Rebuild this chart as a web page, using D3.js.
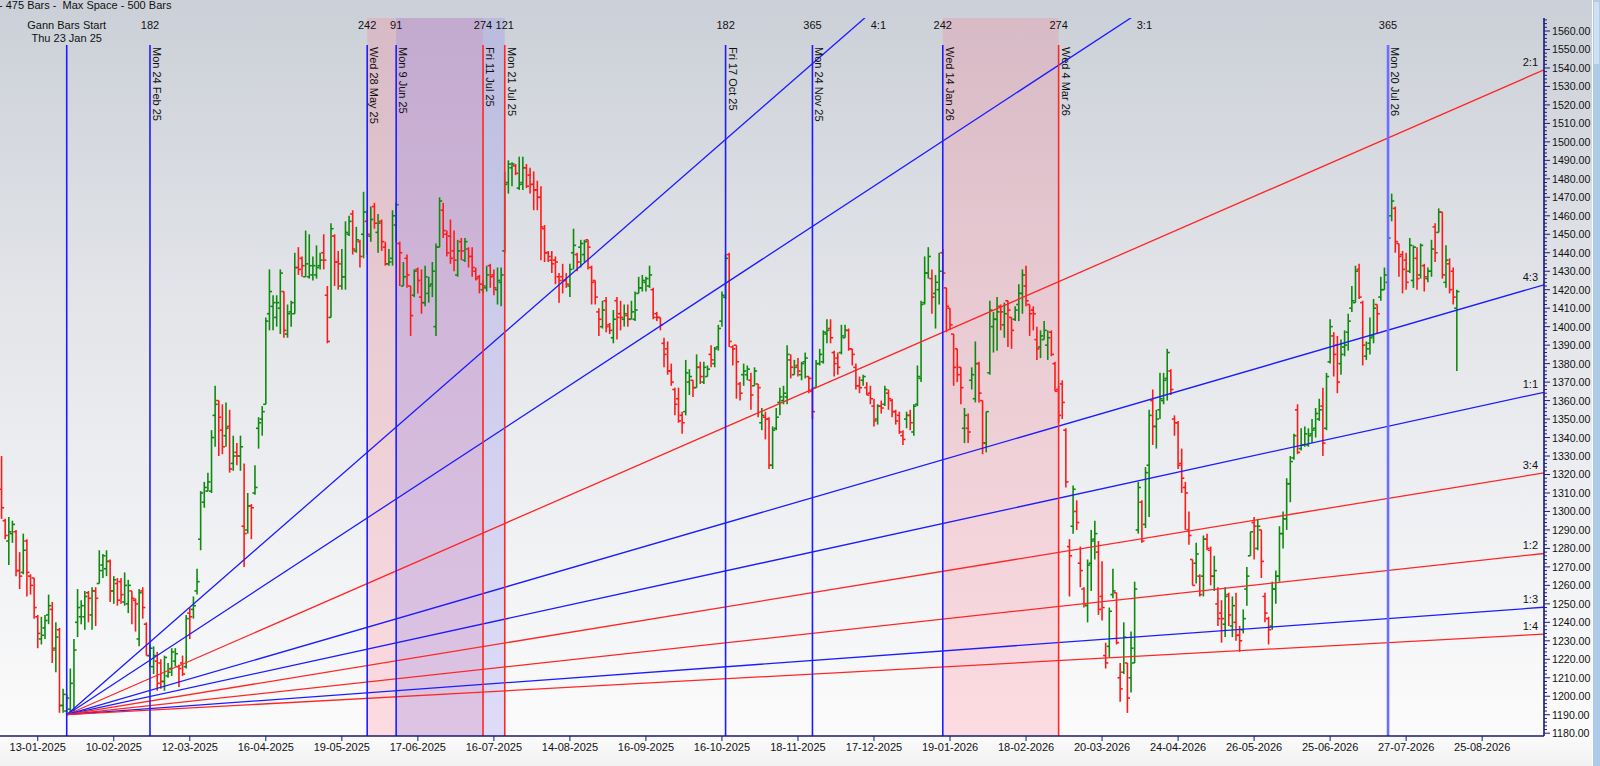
<!DOCTYPE html>
<html><head><meta charset="utf-8">
<script src="https://cdn.jsdelivr.net/npm/d3@7"></script>
<style>
html,body{margin:0;padding:0;overflow:hidden;background:#f2f2f2}
text{font-family:"Liberation Sans",Arial,sans-serif;font-size:11px;fill:#111}
</style>
</head><body>
<svg id="chart" width="1600" height="766"></svg>
<script>
// ---------- DATA ----------
// daily bars [open, high, low, close], one per trading day
const ohlc = [
[1312,1330,1296,1302],[1295,1296,1285,1287],[1284,1297,1271,1289],[1288,1295,1283,1293],[1289,1290,1265,1268],
[1268,1278,1258,1265],[1267,1288,1266,1279],[1284,1285,1254,1267],[1265,1266,1255,1260],[1264,1264,1242,1248],
[1243,1244,1226,1234],[1231,1243,1228,1233],[1237,1244,1231,1241],[1244,1255,1239,1249],[1247,1251,1218,1225],
[1226,1240,1213,1232],[1236,1237,1191,1195],[1195,1204,1191,1201],[1192,1201,1190,1199],[1193,1215,1191,1207],
[1191,1231,1191,1225],[1240,1258,1232,1248],[1243,1252,1239,1249],[1243,1257,1236,1254],[1256,1257,1240,1253],
[1244,1259,1236,1257],[1257,1259,1238,1253],[1261,1279,1261,1268],[1271,1277,1264,1276],[1269,1279,1265,1273],
[1273,1274,1251,1257],[1257,1265,1250,1263],[1261,1264,1249,1252],[1262,1264,1250,1255],[1251,1267,1249,1260],
[1250,1263,1245,1260],[1257,1257,1239,1253],[1252,1253,1235,1250],[1231,1258,1227,1256],[1257,1259,1242,1248],
[1239,1240,1222,1222],[1222,1228,1216,1226],[1216,1227,1212,1222],[1219,1224,1203,1207],[1218,1220,1204,1208],
[1208,1222,1203,1221],[1211,1218,1210,1213],[1215,1226,1211,1224],[1219,1226,1216,1223],[1216,1217,1205,1215],
[1218,1222,1211,1212],[1216,1244,1215,1242],[1245,1248,1231,1243],[1247,1254,1242,1249],[1257,1269,1255,1262],
[1285,1311,1279,1310],[1305,1316,1302,1313],[1311,1321,1311,1316],[1311,1344,1310,1340],[1352,1368,1335,1358],
[1360,1360,1330,1351],[1344,1358,1331,1335],[1341,1359,1335,1345],[1346,1355,1321,1323],[1326,1341,1322,1330],
[1332,1337,1325,1330],[1330,1341,1322,1335],[1292,1326,1270,1288],[1290,1310,1288,1303],[1303,1304,1285,1302],
[1310,1325,1309,1313],[1345,1351,1334,1348],[1350,1357,1341,1354],[1358,1405,1358,1403],[1407,1431,1398,1419],
[1411,1417,1398,1413],[1405,1417,1400,1413],[1410,1431,1396,1429],[1419,1419,1394,1398],[1396,1412,1394,1407],
[1408,1414,1400,1413],[1407,1440,1407,1432],[1432,1443,1428,1431],[1437,1438,1427,1433],[1427,1452,1427,1434],
[1427,1450,1426,1433],[1428,1438,1425,1433],[1428,1444,1426,1432],[1433,1440,1431,1436],[1440,1450,1431,1436],
[1417,1422,1391,1392],[1405,1456,1405,1453],[1449,1450,1422,1435],[1435,1441,1420,1434],[1422,1442,1420,1427],
[1427,1457,1420,1451],[1450,1460,1449,1457],[1461,1463,1439,1442],[1441,1454,1440,1447],[1446,1447,1432,1438],
[1450,1473,1437,1462],[1457,1463,1439,1450],[1449,1465,1446,1458],[1465,1467,1453,1456],[1451,1461,1440,1456],
[1457,1458,1441,1446],[1443,1446,1433,1434],[1434,1442,1433,1435],[1437,1463,1433,1460],[1455,1467,1446,1466],
[1445,1446,1422,1440],[1422,1435,1422,1427],[1437,1439,1421,1428],[1422,1422,1395,1406],[1417,1431,1416,1430],
[1431,1432,1418,1425],[1416,1431,1407,1413],[1413,1433,1411,1427],[1418,1427,1413,1422],[1423,1435,1416,1430],
[1400,1445,1395,1443],[1443,1470,1443,1468],[1463,1467,1448,1452],[1450,1452,1438,1440],[1449,1458,1434,1437],
[1441,1452,1430,1436],[1428,1447,1427,1441],[1446,1448,1436,1441],[1436,1448,1435,1446],[1442,1443,1432,1438],
[1438,1443,1427,1432],[1430,1432,1425,1426],[1427,1428,1418,1423],[1420,1425,1418,1422],[1421,1433,1419,1428],
[1433,1434,1421,1427],[1428,1431,1417,1421],[1420,1432,1412,1425],[1424,1432,1411,1428],[1441,1484,1440,1477],
[1478,1490,1472,1488],[1486,1489,1476,1488],[1487,1488,1482,1483],[1475,1492,1474,1477],[1478,1492,1474,1486],
[1486,1488,1475,1476],[1482,1486,1472,1477],[1477,1484,1463,1474],[1474,1479,1463,1470],[1470,1476,1436,1454],
[1453,1455,1435,1440],[1440,1441,1435,1438],[1436,1441,1429,1434],[1436,1438,1423,1435],[1427,1429,1413,1425],
[1427,1434,1418,1425],[1425,1429,1421,1423],[1422,1434,1416,1431],[1440,1453,1431,1444],[1439,1440,1430,1435],
[1443,1447,1432,1445],[1439,1447,1435,1446],[1447,1447,1431,1443],[1432,1433,1412,1424],[1425,1425,1412,1416],
[1408,1410,1395,1404],[1400,1414,1399,1409],[1414,1416,1397,1400],[1401,1402,1396,1398],[1394,1409,1391,1404],
[1414,1416,1393,1405],[1407,1414,1398,1405],[1404,1412,1400,1407],[1406,1412,1400,1404],[1404,1414,1404,1408],
[1404,1419,1403,1409],[1418,1427,1418,1421],[1421,1428,1419,1425],[1424,1427,1419,1426],[1422,1433,1421,1428],
[1420,1421,1404,1405],[1407,1408,1403,1405],[1405,1405,1398,1401],[1391,1394,1378,1385],[1388,1392,1374,1376],
[1376,1380,1368,1370],[1366,1367,1352,1358],[1361,1367,1348,1349],[1352,1354,1342,1348],[1354,1382,1352,1375],
[1370,1377,1363,1373],[1371,1371,1362,1367],[1367,1385,1367,1378],[1378,1381,1369,1373],[1370,1381,1369,1378],
[1373,1379,1373,1377],[1385,1390,1378,1382],[1380,1389,1378,1388],[1389,1401,1387,1399],[1403,1419,1400,1417],
[1416,1439,1415,1437],[1439,1440,1389,1392],[1389,1390,1379,1388],[1390,1390,1361,1381],[1369,1370,1360,1364],
[1374,1380,1368,1376],[1374,1379,1371,1377],[1371,1375,1355,1363],[1368,1378,1368,1376],[1369,1369,1351,1367],
[1348,1356,1344,1352],[1351,1354,1339,1350],[1350,1351,1323,1325],[1325,1346,1323,1344],[1345,1356,1344,1351],
[1359,1367,1352,1362],[1360,1368,1358,1364],[1362,1390,1358,1385],[1382,1385,1372,1378],[1374,1382,1374,1378],
[1379,1383,1373,1376],[1374,1381,1371,1380],[1381,1386,1372,1383],[1373,1373,1364,1372],[1365,1367,1350,1354],
[1367,1382,1367,1380],[1380,1388,1379,1385],[1381,1398,1380,1397],[1396,1404,1391,1398],[1399,1404,1391,1394],
[1386,1387,1373,1380],[1383,1386,1374,1378],[1386,1401,1385,1395],[1394,1401,1394,1398],[1398,1399,1387,1388],
[1388,1388,1379,1385],[1378,1380,1366,1368],[1368,1373,1364,1367],[1371,1374,1368,1373],[1367,1370,1363,1363],
[1364,1368,1358,1361],[1357,1361,1346,1349],[1350,1358,1347,1357],[1357,1360,1353,1356],[1358,1368,1357,1366],
[1364,1366,1355,1361],[1360,1361,1351,1354],[1354,1355,1347,1349],[1352,1354,1342,1343],[1341,1344,1336,1339],
[1350,1354,1345,1352],[1352,1355,1344,1348],[1343,1358,1341,1357],[1358,1379,1357,1373],[1372,1414,1370,1412],
[1413,1438,1412,1429],[1429,1443,1426,1438],[1426,1431,1407,1416],[1418,1428,1399,1424],[1420,1440,1412,1430],
[1440,1442,1425,1429],[1421,1421,1397,1411],[1410,1410,1398,1401],[1396,1396,1368,1378],[1388,1388,1370,1374],
[1378,1378,1358,1367],[1345,1356,1337,1352],[1345,1353,1337,1343],[1371,1378,1366,1374],[1361,1392,1359,1380],
[1380,1381,1359,1364],[1360,1360,1331,1337],[1337,1354,1332,1354],[1375,1414,1374,1409],[1400,1408,1386,1404],
[1404,1416,1387,1408],[1411,1412,1398,1408],[1401,1413,1394,1407],[1414,1414,1389,1409],[1405,1405,1388,1398],
[1404,1411,1403,1409],[1412,1423,1403,1418],[1418,1431,1407,1428],[1422,1433,1411,1414],[1412,1412,1395,1407],
[1409,1411,1398,1407],[1393,1400,1382,1388],[1389,1398,1383,1395],[1393,1403,1393,1398],[1390,1398,1382,1394],
[1397,1398,1384,1385],[1380,1381,1365,1365],[1366,1368,1348,1352],[1369,1371,1350,1359],[1344,1345,1313,1316],
[1281,1285,1254,1276],[1292,1314,1288,1312],[1300,1306,1290,1294],[1272,1281,1259,1268],[1258,1259,1248,1250],
[1249,1274,1240,1271],[1272,1290,1257,1284],[1285,1295,1274,1288],[1278,1284,1244,1247],[1254,1273,1241,1248],
[1222,1229,1215,1218],[1227,1248,1221,1246],[1255,1269,1253,1257],[1256,1256,1228,1229],[1210,1218,1197,1204],
[1213,1240,1212,1232],[1218,1218,1191,1199],[1210,1235,1202,1226],[1218,1262,1218,1258],[1290,1316,1288,1313],
[1305,1306,1283,1284],[1293,1324,1291,1321],[1325,1355,1297,1352],[1360,1366,1336,1346],[1346,1355,1334,1350],
[1355,1375,1350,1361],[1360,1375,1358,1371],[1372,1388,1360,1386],[1376,1377,1363,1366],[1350,1352,1341,1348],
[1348,1349,1323,1325],[1326,1334,1310,1318],[1313,1316,1290,1310],[1290,1300,1282,1287],[1274,1274,1260,1260],
[1272,1283,1261,1277],[1265,1266,1254,1255],[1265,1287,1254,1285],[1285,1288,1279,1280],[1279,1281,1260,1265],
[1265,1276,1257,1268],[1250,1259,1238,1242],[1245,1252,1229,1242],[1239,1259,1232,1254],[1255,1256,1238,1244],
[1238,1254,1232,1249],[1240,1256,1230,1233],[1233,1238,1224,1230],[1236,1247,1234,1242],[1258,1270,1249,1265],
[1276,1289,1276,1289],[1294,1297,1274,1292],[1280,1296,1279,1292],[1290,1290,1264,1273],[1254,1256,1240,1245],
[1242,1243,1228,1236],[1238,1262,1236,1258],[1258,1268,1250,1265],[1265,1292,1262,1288],[1288,1300,1280,1296],
[1296,1318,1290,1315],[1315,1330,1305,1327],[1329,1342,1328,1341],[1355,1358,1331,1332],[1334,1345,1333,1336],
[1336,1346,1335,1342],[1336,1345,1335,1341],[1342,1350,1337,1344],[1345,1356,1340,1353],[1350,1361,1349,1355],
[1357,1367,1330,1337],[1345,1375,1344,1373],[1381,1404,1380,1400],[1395,1397,1373,1385],[1390,1395,1364,1370],
[1380,1393,1374,1385],[1389,1398,1384,1390],[1397,1407,1387,1403],[1410,1422,1408,1414],[1413,1433,1413,1430],
[1431,1434,1415,1416],[1413,1414,1379,1390],[1384,1392,1382,1388],[1391,1405,1385,1394],[1395,1415,1391,1410],
[1412,1412,1396,1407],[1416,1427,1414,1420],[1420,1432,1420,1428],[1424,1459,1420,1448],[1460,1472,1457,1468],
[1464,1465,1440,1446],[1445,1445,1427,1438],[1439,1441,1418,1431],[1436,1440,1420,1424],[1430,1448,1429,1444],
[1425,1444,1421,1443],[1437,1443,1420,1426],[1428,1445,1426,1444],[1433,1434,1419,1427],[1426,1432,1424,1430],
[1430,1447,1427,1442],[1454,1456,1435,1440],[1451,1464,1451,1462],[1462,1462,1426,1428],[1424,1444,1421,1436],
[1434,1437,1418,1420],[1430,1432,1412,1416],[1410,1420,1376,1419]
];

// date axis: bar index of each labelled tick and its label
const xTickIndex  = [10,31,52,73,94,115,136,157,178,199,220,241,262,283,304,325,346,367,388,409];
const xTickLabels = ["13-01-2025","10-02-2025","12-03-2025","16-04-2025","19-05-2025","17-06-2025",
  "16-07-2025","14-08-2025","16-09-2025","16-10-2025","18-11-2025","17-12-2025","19-01-2026",
  "18-02-2026","20-03-2026","24-04-2026","26-05-2026","25-06-2026","27-07-2026","25-08-2026"];

// price axis labels
const priceTicks = [1180,1190,1200,1210,1220,1230,1240,1250,1260,1270,1280,1290,1300,1310,1320,1330,
  1340,1350,1360,1370,1380,1390,1400,1410,1420,1430,1440,1450,1460,1470,1480,1490,1500,1510,1520,
  1530,1540,1550,1560];

// Gann time markers
const markerIndex = [41,101,109,133,139,200,224,260,292,383];
const markerCount = ["182","242","91","274","121","182","365","242","274","365"];
const markerLabel = ["Mon 24 Feb 25","Wed 28 May 25","Mon 9 Jun 25","Fri 11 Jul 25","Mon 21 Jul 25",
  "Fri 17 Oct 25","Mon 24 Nov 25","Wed 14 Jan 26","Wed 4 Mar 26","Mon 20 Jul 26"];
const markerKind  = ["blue","blue","blue","red","red","blue","blue","blue","red","current"];

// shaded time windows [fromIndex, toIndex, kind]
const bandFrom = [101,109,260];
const bandTo   = [133,139,292];
const bandKind = ["pink","blue","pink"];

// Gann fan from the start bar
const gannStartIndex = 18;
const gannStartPrice = 1190;
const gannUnit = 0.4276;            // price per bar on the 1x1 line
const fanNames  = ["4:1","3:1","2:1","4:3","1:1","3:4","1:2","1:3","1:4"];
const fanRatios = [4,3,2,4/3,1,3/4,1/2,1/3,1/4];
const fanKind   = ["blue","blue","red","blue","blue","red","red","blue","red"];

const headerText = "- 475 Bars -  Max Space - 500 Bars";
const startTitle = ["Gann Bars Start","Thu 23 Jan 25"];

// ---------- LAYOUT ----------
const W = 1600, H = 766;
const plot = {left:0, right:1544, top:18, bottom:736};
const svg = d3.select("#chart");

const x = d3.scaleLinear().domain([-0.43, 426.08]).range([0, 1544]);
const y = d3.scaleLinear().domain([1180, 1560]).range([733.2, 31]);
const topPrice = y.invert(plot.top);

const colors = {blue:"#1c1cff", red:"#ff2626", current:"#6d6dff",
  green:"#0f8a0f", down:"#ff1a1a", axis:"#1a1a78"};

// background gradient
const defs = svg.append("defs");
const grad = defs.append("linearGradient").attr("id","bg").attr("x1",0).attr("y1",0).attr("x2",0).attr("y2",1);
[[0,"#cbcfd7"],[0.4,"#e3e5e9"],[0.75,"#f2f3f5"],[0.96,"#fbfbfb"],[1,"#f1f1f1"]]
  .forEach(s=>grad.append("stop").attr("offset",s[0]).attr("stop-color",s[1]));
svg.append("rect").attr("width",W).attr("height",H).attr("fill","url(#bg)");

defs.append("clipPath").attr("id","plotclip").append("rect")
  .attr("x",plot.left).attr("y",plot.top).attr("width",plot.right-plot.left).attr("height",plot.bottom-plot.top);

// shaded bands
const bandFill = {pink:"rgba(255,110,130,0.22)", blue:"rgba(130,120,240,0.24)"};
const gBands = svg.append("g");
bandFrom.forEach((f,k)=>{
  gBands.append("rect").attr("x",x(f)).attr("width",x(bandTo[k])-x(f))
    .attr("y",plot.top).attr("height",plot.bottom-plot.top).attr("fill",bandFill[bandKind[k]]);
});

// OHLC bars
const gBars = svg.append("g").attr("clip-path","url(#plotclip)");
const tick = 2.6;
ohlc.forEach((d,i)=>{
  const [o,h,l,c] = d;
  const col = c >= o ? colors.green : colors.down;
  const cx = x(i);
  const g = gBars.append("g").attr("stroke",col).attr("stroke-width",1.6);
  g.append("line").attr("x1",cx).attr("x2",cx).attr("y1",y(Math.max(h,o,c))).attr("y2",y(Math.min(l,o,c)));
  g.append("line").attr("x1",cx-tick).attr("x2",cx).attr("y1",y(o)).attr("y2",y(o));
  g.append("line").attr("x1",cx).attr("x2",cx+tick).attr("y1",y(c)).attr("y2",y(c));
});

// Gann fan lines
const gFan = svg.append("g").attr("clip-path","url(#plotclip)");
const xEnd = x.domain()[1];
fanRatios.forEach((r,k)=>{
  const p = idx => gannStartPrice + r*gannUnit*(idx-gannStartIndex);
  gFan.append("line")
    .attr("x1",x(gannStartIndex)).attr("y1",y(gannStartPrice))
    .attr("x2",x(xEnd)).attr("y2",y(p(xEnd)))
    .attr("stroke",colors[fanKind[k]]).attr("stroke-width",1.3);
  const endPrice = p(xEnd);
  if (endPrice > topPrice) {
    const exitIdx = gannStartIndex + (topPrice-gannStartPrice)/(r*gannUnit);
    svg.append("text").attr("x",x(exitIdx)+6).attr("y",29).text(fanNames[k]);
  } else {
    svg.append("text").attr("x",plot.right-6).attr("y",y(endPrice)-4)
      .attr("text-anchor","end").text(fanNames[k]);
  }
});

// vertical time markers
const gMark = svg.append("g");
gMark.append("line").attr("x1",x(gannStartIndex)).attr("x2",x(gannStartIndex))
  .attr("y1",45).attr("y2",plot.bottom).attr("stroke",colors.blue).attr("stroke-width",1.6);
svg.append("text").attr("x",x(gannStartIndex)).attr("y",29).attr("text-anchor","middle").text(startTitle[0]);
svg.append("text").attr("x",x(gannStartIndex)).attr("y",42).attr("text-anchor","middle").text(startTitle[1]);

markerIndex.forEach((mi,k)=>{
  const mx = x(mi);
  const kind = markerKind[k];
  gMark.append("line").attr("x1",mx).attr("x2",mx).attr("y1",45).attr("y2",plot.bottom)
    .attr("stroke",colors[kind]).attr("stroke-width",kind==="current"?2.6:1.6);
  svg.append("text").attr("x",mx).attr("y",29).attr("text-anchor","middle").text(markerCount[k]);
  svg.append("text").attr("transform",`translate(${mx+3},47) rotate(90)`).text(markerLabel[k]);
});

// header
svg.append("text").attr("x",-1).attr("y",9).style("white-space","pre").text(headerText);

// bottom axis
const gx = svg.append("g");
gx.append("line").attr("x1",0).attr("x2",plot.right).attr("y1",plot.bottom).attr("y2",plot.bottom)
  .attr("stroke",colors.axis).attr("stroke-width",1.5);
xTickIndex.forEach((ti,k)=>{
  gx.append("line").attr("x1",x(ti)).attr("x2",x(ti)).attr("y1",plot.bottom).attr("y2",plot.bottom+5)
    .attr("stroke",colors.axis);
  gx.append("text").attr("x",x(ti)).attr("y",751).attr("text-anchor","middle").text(xTickLabels[k]);
});

// right price axis
const gy = svg.append("g");
gy.append("line").attr("x1",plot.right).attr("x2",plot.right).attr("y1",plot.top).attr("y2",plot.bottom)
  .attr("stroke",colors.axis).attr("stroke-width",1.6);
const minor = d3.range(1180, 1568, 2);
minor.forEach(v=>{
  const major = v % 10 === 0;
  gy.append("line").attr("x1",plot.right).attr("x2",plot.right+(major?6:3))
    .attr("y1",y(v)).attr("y2",y(v)).attr("stroke",colors.axis).attr("stroke-width",1);
});
priceTicks.forEach(v=>{
  gy.append("text").attr("x",plot.right+8).attr("y",y(v)+4).style("font-size","10.6px")
    .text(d3.format(".2f")(v));
});

// scrollbar strip on the right edge
svg.append("rect").attr("x",1592).attr("y",0).attr("width",1).attr("height",H).attr("fill","#ffffff");
svg.append("rect").attr("x",1593).attr("y",0).attr("width",7).attr("height",H).attr("fill","#aecbe9");
svg.append("rect").attr("x",1594).attr("y",2).attr("width",5).attr("height",62).attr("fill","#cfe0f2");
</script>
</body></html>
